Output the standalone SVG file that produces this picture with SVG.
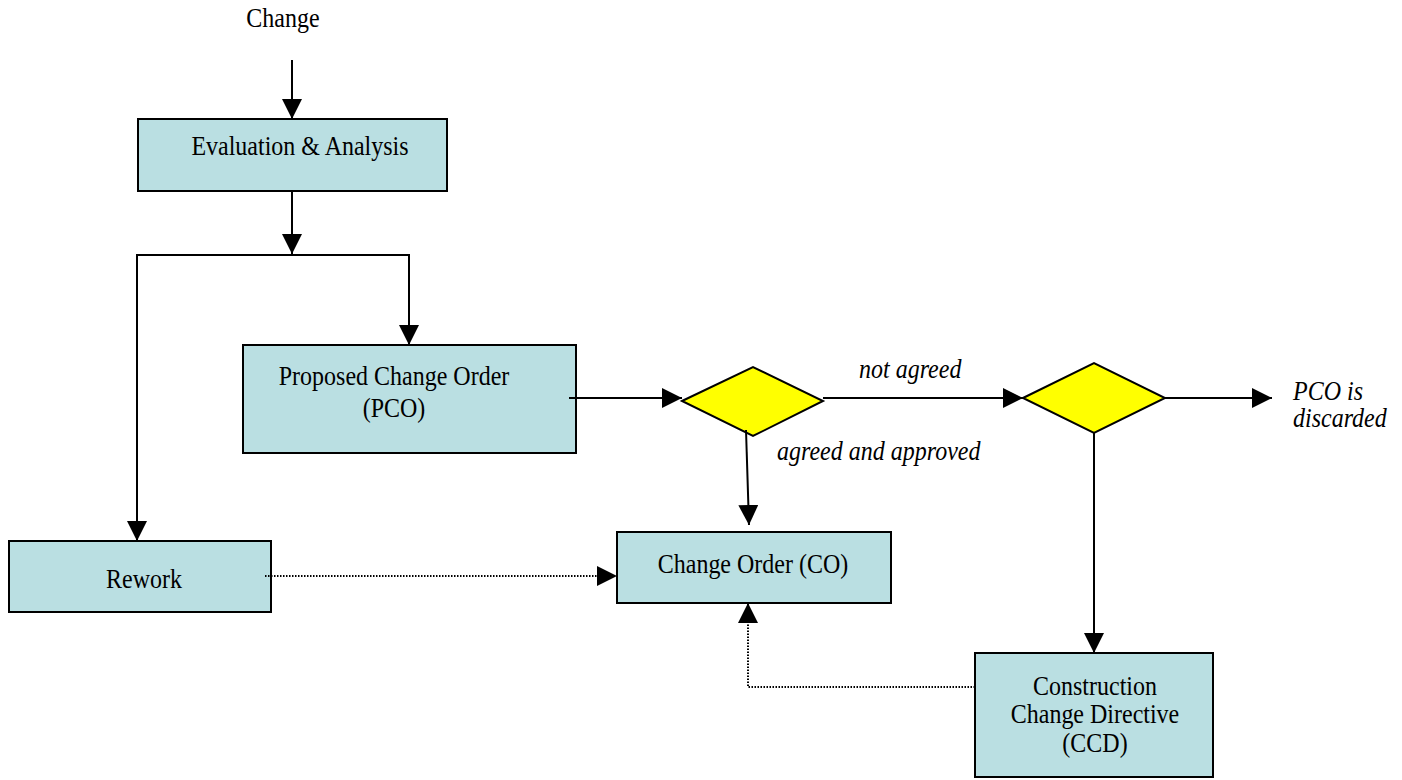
<svg xmlns="http://www.w3.org/2000/svg" width="1402" height="780" viewBox="0 0 1402 780">
<style>
.box{fill:#BADFE2;stroke:#000;stroke-width:2}
.dia{fill:#FFFF00;stroke:#000;stroke-width:2}
.t{font-family:"Liberation Serif","Times New Roman",serif;font-size:24px;fill:#000}
.c{text-anchor:middle}
.i{font-style:italic}
.ln{fill:none;stroke:#000;stroke-width:2}
.dot{fill:none;stroke:#000;stroke-width:2;stroke-dasharray:1.5 1.5}
</style>
<defs>
<marker id="ah" markerUnits="userSpaceOnUse" markerWidth="20" markerHeight="20" refX="20" refY="10" orient="auto">
<path d="M0,0 L20,10 L0,20 Z" fill="#000"/>
</marker>
</defs>
<rect width="1402" height="780" fill="#fff"/>
<g id="change-label">
<text class="t c" transform="translate(283,27) scale(1,1.1)">Change</text>
</g>
<g id="evaluation">
<rect class="box" x="138" y="119" width="309" height="72"/>
<text class="t c" transform="translate(300,155) scale(1,1.1)">Evaluation &amp; Analysis</text>
</g>
<g id="pco">
<rect class="box" x="243" y="345" width="333" height="108"/>
<text class="t c" transform="translate(394,385) scale(1,1.1)">Proposed Change Order</text>
<text class="t c" transform="translate(394,417) scale(1,1.1)">(PCO)</text>
</g>
<g id="decision1">
<polygon class="dia" points="682,401 753,367 823,401 753,436"/>
</g>
<g id="decision2">
<polygon class="dia" points="1023,398 1094,363 1165,398 1094,433"/>
</g>
<g id="discarded">
<text class="t i" transform="translate(1293,400) scale(1,1.1)">PCO is</text>
<text class="t i" transform="translate(1293,427) scale(1,1.1)">discarded</text>
</g>
<g id="rework">
<rect class="box" x="9" y="541" width="262" height="71"/>
<text class="t c" transform="translate(144,588) scale(1,1.1)">Rework</text>
</g>
<g id="change-order">
<rect class="box" x="617" y="532" width="274" height="71"/>
<text class="t c" transform="translate(753,573) scale(1,1.1)">Change Order (CO)</text>
</g>
<g id="ccd">
<rect class="box" x="975" y="653" width="238" height="124"/>
<text class="t c" transform="translate(1095,695) scale(1,1.1)">Construction</text>
<text class="t c" transform="translate(1095,723) scale(1,1.1)">Change Directive</text>
<text class="t c" transform="translate(1095,752) scale(1,1.1)">(CCD)</text>
</g>
<g id="connectors">
<path class="ln" d="M292,60 V119" marker-end="url(#ah)"/>
<path class="ln" d="M292,191 V254" marker-end="url(#ah)"/>
<path class="ln" d="M292,255 H137 V541" marker-end="url(#ah)"/>
<path class="ln" d="M292,255 H409 V345" marker-end="url(#ah)"/>
<path class="ln" d="M569,398 H682" marker-end="url(#ah)"/>
<path class="ln" d="M823,398 H1023" marker-end="url(#ah)"/>
<path class="ln" d="M1165,398 H1272" marker-end="url(#ah)"/>
<path class="ln" d="M746,430 L749,525" marker-end="url(#ah)"/>
<path class="ln" d="M1094,433 V653" marker-end="url(#ah)"/>
<path class="dot" d="M265,576 H617" marker-end="url(#ah)"/>
<path class="dot" d="M975,687 H748 V603" marker-end="url(#ah)"/>
<text class="t i" transform="translate(859,378) scale(1,1.1)">not agreed</text>
<text class="t i" transform="translate(777,460) scale(1,1.1)">agreed and approved</text>
</g>
</svg>
